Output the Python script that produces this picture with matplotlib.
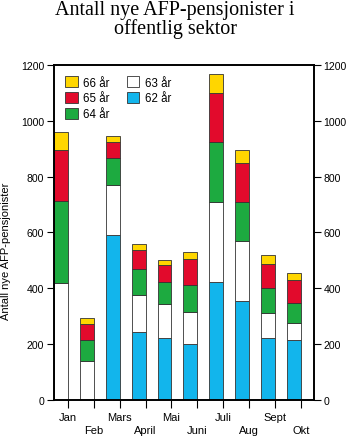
import matplotlib
matplotlib.use("Agg")
import matplotlib.pyplot as plt
import numpy as np

months = ["Jan", "Feb", "Mars", "April", "Mai", "Juni", "Juli", "Aug", "Sept", "Okt"]
age62 = [0, 0, 589, 242, 222, 201, 424, 353, 221, 215]
age63 = [418, 140, 182, 133, 121, 115, 286, 215, 89, 61]
age64 = [296, 74, 95, 95, 78, 96, 215, 142, 92, 70]
age65 = [181, 59, 59, 67, 64, 92, 175, 138, 86, 85]
age66 = [66, 20, 19, 21, 18, 27, 69, 46, 30, 25]
series_labels = ["62 år", "63 år", "64 år", "65 år", "66 år"]
colors = ["#12B5EC", "#FFFFFF", "#1DAA40", "#E20A2C", "#FFD600"]

plt.rcParams['font.family'] = ['Liberation Sans', 'DejaVu Sans']

fig = plt.figure(figsize=(3.5, 4.39), dpi=100)
ax = fig.add_axes([0.154, 0.0866, 0.743, 0.7634])

x = np.arange(len(months))
w = 0.54
bottom = np.zeros(len(months))
handles = {}
for vals, lab, col in zip([age62, age63, age64, age65, age66], series_labels, colors):
    v = np.array(vals, dtype=float)
    b = ax.bar(x - w / 2, v, width=w, bottom=bottom, color=col,
               edgecolor="#333333", linewidth=0.6, label=lab, zorder=2)
    handles[lab] = b
    bottom += v

ax.set_xlim(-0.54, 9.5)
ax.set_ylim(0, 1200)
ax.set_yticks(np.arange(0, 1201, 200))
ax.tick_params(axis='y', which='both', direction='out', length=5, width=0.8, pad=2,
               labelsize=7.6, left=True, right=True, labelleft=True, labelright=True)
ax.set_xticks(x)
ax.set_xticklabels([m if i % 2 == 0 else "\n" + m for i, m in enumerate(months)],
                   fontsize=8, linespacing=1.3)
ax.tick_params(axis='x', direction='out', length=6, width=0.8, pad=3)
for s in ax.spines.values():
    s.set_linewidth(1.4)

fig.text(6.5 / 350, 1 - 251 / 439, "Antall nye AFP-pensjonister", rotation=90,
         ha="center", va="center", fontsize=8)

order = ["66 år", "65 år", "64 år", "63 år", "62 år"]
leg = ax.legend([handles[k] for k in order], order, ncol=2, loc="upper left",
                bbox_to_anchor=(0.0, 1.0), frameon=False, fontsize=8.3,
                handlelength=1.05, handleheight=1.05, handletextpad=0.5,
                columnspacing=1.5, labelspacing=0.3, borderaxespad=0.6)

fig.text(0.5, 0.997, "Antall nye AFP-pensjonister i\noffentlig sektor",
         ha="center", va="top", fontsize=14.5,
         family=['Liberation Serif', 'DejaVu Serif'], linespacing=0.95)

fig.savefig("out.png", dpi=100)
